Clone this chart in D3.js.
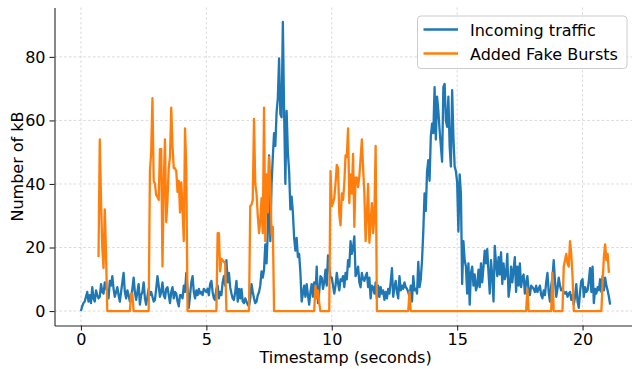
<!DOCTYPE html>
<html>
<head>
<meta charset="utf-8">
<script src="https://cdn.jsdelivr.net/npm/d3@7/dist/d3.min.js"></script>
<style>
  body { margin: 0; background: #fff; }
  svg { font-family: "DejaVu Sans", sans-serif; }
</style>
</head>
<body>
<svg id="chart" width="632" height="369"></svg>
<script>
// samples are 0.05 s apart, starting at t = 0
const sampleInterval = 0.05;

// Incoming traffic (kB), one row per second
const incoming = [
  0, 1.5, 2.5, 3, 4.5, 6, 3, 5, 2.5, 7.5, 4, 3, 6.5, 5, 4, 4.5, 8.5, 6, 5.5, 9,
  7, 6.5, 4, 9.5, 8, 11, 7, 4.5, 6, 7.5, 5, 3, 6, 9, 12, 6, 4, 6.5, 5, 3,
  4, 7, 10.5, 6, 3.5, 6, 8.5, 2, 5, 6, 9, 4, 2, 4.5, 7, 5, 6, 4.5, 3, 3.5,
  7, 11, 8, 4.5, 6, 9, 5, 4, 7, 7.5, 5, 2.5, 6, 7.5, 4, 6, 5.5, 3, 1.5, 5,
  5, 4, 8, 6, 12, 7, 1, 5, 9, 11, 6, 4, 6.5, 5, 7, 5.5, 6, 5, 7, 6.5,
  6, 7, 5, 8.5, 9.5, 6, 4, 3.5, 7, 8, 4, 6, 5, 9, 11, 8, 16, 9, 12, 7.5,
  5.5, 4, 3.5, 6, 9.5, 3, 7, 4, 7, 3, 2.5, 4, 3, 2, 1.5, 4, 8.5, 6, 4, 2.5,
  3, 5, 6, 8, 12.5, 10.5, 13, 21, 15, 25, 49, 22, 40, 48.5, 56, 52, 62.5, 67, 79.5, 62,
  61, 91, 63, 40, 63, 50, 44, 32, 36, 31, 23, 19, 23, 17, 18, 12, 3, 5.5, 8, 4.5,
  8.5, 5, 2, 6, 8.5, 4.5, 9, 5, 14, 2.5, 6, 11, 10.5, 7, 9, 13, 8, 17.5, 14, 10.5,
  10.5, 8, 5.5, 8, 12, 9, 6.5, 10, 9.5, 11, 7.5, 12, 10, 16, 14, 22, 18, 20, 23.5, 11,
  12, 14, 9, 7.5, 12, 10, 9.5, 11, 12, 7.5, 10.5, 4, 8, 7.5, 5.5, 9, 4, 8, 4.5, 7.5,
  5.5, 6.5, 3.5, 6, 4, 7, 5.5, 9, 13.5, 4.5, 7.5, 9.5, 6, 4, 11, 6.5, 8, 7, 9, 7.5,
  7, 6, 4.5, 8, 3, 11, 6.5, 7, 5.5, 15.5, 7.5, 10, 16, 25, 37, 31.5, 44, 47.5, 41, 55,
  59, 56, 70.5, 54, 67.5, 63, 57, 52, 47, 70.5, 71.5, 60, 58, 67.5, 52, 45.5, 69.5, 55, 45.5, 44,
  40.5, 25, 43, 37, 8.5, 22, 16, 14, 5.5, 15, 2, 12, 14, 8, 11.5, 6.5, 8, 13, 7.5, 15,
  9, 14, 19, 15, 19.5, 12, 5.5, 16, 11, 3, 20.5, 15, 11, 17, 11.5, 18.5, 8.5, 15, 10, 11.5,
  18, 4.5, 7.5, 14, 9, 13, 17, 6, 14, 8, 15, 7.5, 10.5, 11.5, 5.5, 9, 11, 6.5, 5, 8,
  7.5, 7, 6, 8, 6, 7, 8, 5, 4, 6.5, 5, 9, 12, 6, 3, 8, 10.5, 16, 9.5, 4.5,
  7, 10.5, 8, 6.5, 7, 6, 5.5, 6, 4.5, 5.5, 6, 3.5, 5, 2, 4.5, 8.5, 3, 1, 6, 9.5,
  10, 4.5, 7.5, 6, 6.5, 9.5, 13.5, 6, 14, 2.5, 7, 5.5, 7.5, 6.5, 10, 6, 11, 6.5, 10.5, 8,
  6.5, 4.5, 2
];

// Added fake bursts (kB), same timestamps; null where nothing was drawn
const fakeBursts = [
  null, null, null, null, null, null, null, null, null, null, null, null, null, null, 17, 54, 35, 20, 13.5, 32,
  18, 0, 0, 0, 0, 0, 0, 0, 0, 0, 0, 0, 0, 0, 0, 0, 0, 0, 0, 0,
  5.5, 5.5, 0, 0, 0, 0, 0, 0, 0, 0, 0, 0, 0, 0, 0, 44, 50, 67, 41, 40,
  36.5, 36, 35, 51, 51, 14, 40, 54, 28, 35, 45, 48.5, 64, 52, 45, 45, 44, 37.5, 41, 31,
  40.5, 32, 22, 57.5, 45, 0, 0, 0, 0, 0, 0, 0, 0, 0, 0, 0, 0, 0, 0, 0,
  0, 0, 0, 0, 0, 0, 0, 0, 0, 24.5, 24.5, 12.5, 16.5, 16, 15.5, 15, 0, 0, 0, 0,
  0, 0, 0, 0, 0, 0, 0, 0, 0, 0, 0, 0, 0, 0, 0, 33, 33.5, 35, 60.5, 40,
  37, 30, 24.5, 28.5, 35.5, 24.5, 64, 22, 43, 31, 48.5, 40, 24, 26.5, 0, 0, 0, 0, 0, 0,
  0, 0, 0, 0, 0, 0, 0, 0, 0, 0, 0, 0, 0, 0, 0, 0, 0, 0, 0, 0,
  0, 0, 0, 0, 0, 0, 0, 8, 4, 6.5, 2.5, 0, 0, 0, 0, 0, 0, 0, 0, 44,
  33, 34, 35.5, 40, 46, 45, 30.5, 27, 37, 35, 40, 49, 48.5, 57.5, 34, 43, 37, 49.5, 26.5, 42,
  42, 39, 42.5, 48, 54, 45, 37, 22, 30, 40, 21.5, 28, 34, 24.5, 30, 52, 0, 0, 0, 0,
  0, 0, 0, 0, 0, 0, 0, 0, 0, 0, 0, 0, 0, 0, 0, 0, 0, 0, 0, 0,
  0, 0, 6, 0, 0, 0, 0, 0, 0, 0, 0, 0, 0, 0, 0, 0, 0, 0, 0, 0,
  0, 0, 0, 0, 0, 0, 0, 0, 0, 0, 0, 0, 0, 0, 0, 0, 0, 0, 0, 0,
  0, 0, 0, 0, 0, 0, 0, 0, 0, 0, 0, 0, 0, 0, 0, 0, 0, 0, 0, 0,
  0, 0, 0, 0, 0, 0, 0, 0, 0, 0, 0, 0, 0, 0, 0, 0, 0, 0, 0, 0,
  0, 0, 0, 0, 0, 0, 0, 0, 0, 0, 0, 0, 0, 0, 0, 0, 7, 0, 0, 0,
  0, 0, 0, 0, 0, 0, 0, 0, 0, 0, 0, 0, 0, 0, 0, 0, 12, 0, 0, 0,
  0, 0, 0, 0, 0, 14, 16, 18, 15, 14, 22, 18, 11, 0, 0, 0, 0, 0, 0, 0,
  0, 0, 0, 0, 0, 0, 0, 0, 0, 0, 0, 0, 0, 0, 0, 0, 9, 17, 21, 16,
  18, 12, null
];

const xTicks = [0, 5, 10, 15, 20];
const yTicks = [0, 20, 40, 60, 80];
const seriesNames = ["Incoming traffic", "Added Fake Bursts"];
const seriesColors = ["#1f77b4", "#ff7f0e"];

// --- layout ---
const plot = { left: 54.5, right: 636.6, top: 7.5, bottom: 325.5 };
const svg = d3.select("#chart");

const x = d3.scaleLinear().domain([-1.055, 22.155]).range([plot.left, plot.right]);
const y = d3.scaleLinear().domain([-4.55, 95.55]).range([plot.bottom, plot.top]);

// grid
const grid = svg.append("g").attr("class", "grid")
  .attr("stroke", "#d0d0d0").attr("stroke-width", 0.8).attr("stroke-dasharray", "2.6,2.2");
grid.selectAll(".gx").data(xTicks).enter().append("line")
  .attr("x1", d => x(d)).attr("x2", d => x(d))
  .attr("y1", plot.top).attr("y2", plot.bottom);
grid.selectAll(".gy").data(yTicks).enter().append("line")
  .attr("x1", plot.left).attr("x2", plot.right)
  .attr("y1", d => y(d)).attr("y2", d => y(d));

// series
const toPoints = arr => arr.map((v, i) => ({ t: i * sampleInterval, v: v }));
const line = d3.line()
  .defined(d => d.v != null)
  .x(d => x(d.t))
  .y(d => y(d.v));

[incoming, fakeBursts].forEach((arr, k) => {
  svg.append("path")
    .datum(toPoints(arr))
    .attr("fill", "none")
    .attr("stroke", seriesColors[k])
    .attr("stroke-width", 2.3)
    .attr("stroke-linejoin", "round")
    .attr("d", line);
});

// axes
const xAxis = svg.append("g")
  .attr("transform", `translate(0,${plot.bottom})`)
  .call(d3.axisBottom(x).tickValues(xTicks).tickSize(5).tickSizeOuter(0).tickPadding(3));
const yAxis = svg.append("g")
  .attr("transform", `translate(${plot.left},0)`)
  .call(d3.axisLeft(y).tickValues(yTicks).tickSize(5).tickSizeOuter(0).tickPadding(4));

[xAxis, yAxis].forEach(a => {
  a.select(".domain").attr("stroke", "#262626").attr("stroke-width", 1.1);
  a.selectAll(".tick line").attr("stroke", "#262626").attr("stroke-width", 1.1);
  a.selectAll(".tick text").attr("fill", "#000").style("font-size", "16px")
    .style("font-family", "DejaVu Sans");
});

// axis labels
svg.append("text")
  .attr("x", (plot.left + plot.right) / 2)
  .attr("y", 363)
  .attr("text-anchor", "middle")
  .style("font-size", "16px")
  .text("Timestamp (seconds)");

svg.append("text")
  .attr("transform", `translate(23,${(plot.top + plot.bottom) / 2}) rotate(-90)`)
  .attr("text-anchor", "middle")
  .style("font-size", "16px")
  .text("Number of kB");

// legend
const legend = svg.append("g").attr("class", "legend");
legend.append("rect")
  .attr("x", 417.5).attr("y", 16).attr("width", 209.5).attr("height", 52.5)
  .attr("rx", 3.5)
  .attr("fill", "#fff").attr("fill-opacity", 0.8)
  .attr("stroke", "#cccccc").attr("stroke-width", 1);

seriesNames.forEach((name, i) => {
  const ly = 29.5 + i * 24;
  legend.append("line")
    .attr("x1", 423.5).attr("x2", 458)
    .attr("y1", ly).attr("y2", ly)
    .attr("stroke", seriesColors[i]).attr("stroke-width", 2.3);
  legend.append("text")
    .attr("x", 470).attr("y", ly + 6)
    .style("font-size", "16px")
    .text(name);
});
</script>
</body>
</html>
